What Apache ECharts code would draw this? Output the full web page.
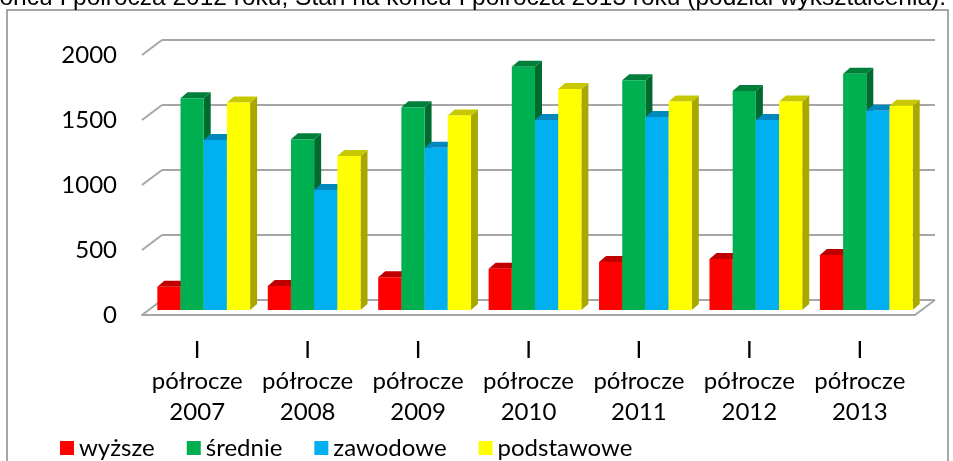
<!DOCTYPE html>
<html>
<head>
<meta charset="utf-8">
<script src="https://cdn.jsdelivr.net/npm/echarts@6/dist/echarts.min.js"></script>
<style>
  html, body { margin: 0; padding: 0; background: #fff; }
  #chart { width: 953px; height: 461px; }
</style>
</head>
<body>
<div id="chart"></div>
<script>
// dane
const categories = ['I\npółrocze\n2007', 'I\npółrocze\n2008', 'I\npółrocze\n2009', 'I\npółrocze\n2010',
  'I\npółrocze\n2011', 'I\npółrocze\n2012', 'I\npółrocze\n2013']
const wyzsze = [179, 185, 252, 318, 369, 392, 423]
const srednie = [1628, 1313, 1559, 1872, 1767, 1685, 1818]
const zawodowe = [1308, 923, 1249, 1462, 1485, 1462, 1533]
const podstawowe = [1597, 1185, 1497, 1700, 1603, 1603, 1572]
const yTicks = [0, 500, 1000, 1500, 2000]

const titleText = 'końcu I półrocza 2012 roku, Stan na końcu I półrocza 2013 roku (podział wykształcenia).'

const FONT = 'Lato'
const gridColor = '#a6a6a6'

// kolory: przód, góra, bok
const seriesDefs = [
  { name: 'wyższe', data: wyzsze, colors: ['#ff0000', '#c00000', '#a00000'] },
  { name: 'średnie', data: srednie, colors: ['#00b050', '#007f3a', '#006b2f'] },
  { name: 'zawodowe', data: zawodowe, colors: ['#00b0f0', '#0088bf', '#0078a8'] },
  { name: 'podstawowe', data: podstawowe, colors: ['#ffff00', '#c8c800', '#a8a800'] }
]

const DX = 7
const DY = -6

const chart = echarts.init(document.getElementById('chart'))

const barSeries = seriesDefs.map((s, k) => ({
  name: s.name,
  type: 'custom',
  xAxisIndex: 2,
  yAxisIndex: 2,
  itemStyle: { color: s.colors[0] },
  encode: { x: 0, y: 1 },
  data: s.data.map((v, i) => [i, v]),
  renderItem: (params, api) => {
    const cat = api.value(0)
    const val = api.value(1)
    const top = api.coord([cat, val])
    const base = api.coord([cat, 0])
    const bw = api.size([1, 0])[0]
    const w = bw * 0.21
    const x0 = top[0] + (k - 2) * w
    const x1 = x0 + w
    const yT = top[1]
    const yB = base[1]
    return {
      type: 'group',
      children: [
        {
          type: 'polygon',
          shape: { points: [[x1, yT], [x1 + DX, yT + DY], [x1 + DX, yB + DY], [x1, yB]] },
          style: { fill: s.colors[2] }
        },
        {
          type: 'polygon',
          shape: { points: [[x0, yT], [x0 + DX, yT + DY], [x1 + DX, yT + DY], [x1, yT]] },
          style: { fill: s.colors[1] }
        },
        {
          type: 'rect',
          shape: { x: x0, y: yT, width: w, height: yB - yT },
          style: { fill: s.colors[0] }
        }
      ]
    }
  }
}))

// skośne linie ścian (perspektywa)
const wallSeries = {
  type: 'custom',
  xAxisIndex: 1,
  yAxisIndex: 1,
  silent: true,
  encode: { x: 0, y: 1 },
  data: yTicks.map(v => [0, v]),
  renderItem: (params, api) => {
    const v = api.value(1)
    const p = api.coord([0, v])
    const bw = api.size([1, 0])[0]
    const left = p[0] - bw / 2
    const children = [{
      type: 'line',
      shape: { x1: left, y1: p[1], x2: left + 20, y2: p[1] - 15 },
      style: { stroke: gridColor, lineWidth: 2 }
    }]
    if (v === 0) {
      const right = api.coord([categories.length - 1, 0])[0] + bw / 2
      children.push({
        type: 'line',
        shape: { x1: right, y1: p[1], x2: right + 20, y2: p[1] - 15 },
        style: { stroke: gridColor, lineWidth: 2 }
      })
    }
    return { type: 'group', children: children }
  }
}

const option = {
  backgroundColor: '#fff',
  animation: false,
  textStyle: { fontFamily: FONT },
  graphic: [
    {
      type: 'rect',
      shape: { x: 7, y: 10, width: 941, height: 470 },
      style: { fill: 'none', stroke: '#8a8a8a', lineWidth: 1.5 },
      z: -1
    },
    {
      type: 'text',
      style: {
        text: titleText,
        x: 946,
        y: 11,
        align: 'right',
        verticalAlign: 'bottom',
        font: '24.5px "Liberation Sans", Arial, sans-serif',
        fill: '#000'
      }
    }
  ],
  legend: {
    left: 55,
    top: 431,
    icon: 'rect',
    itemWidth: 14,
    itemHeight: 14,
    itemGap: 32,
    textStyle: { fontFamily: FONT, fontSize: 24, color: '#000' },
    data: seriesDefs.map(s => s.name)
  },
  grid: [
    { left: 162, right: 18, top: 40, bottom: 161 },
    { left: 142, right: 38, top: 55, bottom: 146 },
    { left: 148.5, right: 31.5, top: 50, bottom: 151 }
  ],
  xAxis: [
    { gridIndex: 0, type: 'category', data: categories, show: false },
    {
      gridIndex: 1,
      type: 'category',
      data: categories,
      axisLine: { lineStyle: { color: gridColor, width: 2 } },
      axisTick: { show: false },
      axisLabel: {
        margin: 20,
        fontFamily: FONT,
        fontSize: 24,
        lineHeight: 31,
        color: '#000',
        interval: 0
      }
    },
    { gridIndex: 2, type: 'category', data: categories, show: false }
  ],
  yAxis: [
    {
      gridIndex: 0,
      type: 'value',
      min: 0,
      max: 2000,
      interval: 500,
      axisLabel: { show: false },
      axisLine: { show: false },
      axisTick: { show: false },
      splitLine: { lineStyle: { color: gridColor, width: 2 } }
    },
    {
      gridIndex: 1,
      type: 'value',
      min: 0,
      max: 2000,
      interval: 500,
      axisLine: { show: false },
      axisTick: { show: false },
      splitLine: { show: false },
      axisLabel: {
        margin: 25,
        fontFamily: FONT,
        fontSize: 24,
        color: '#000',
        formatter: v => String(v)
      }
    },
    { gridIndex: 2, type: 'value', min: 0, max: 2000, show: false, splitLine: { show: false } }
  ],
  series: [wallSeries].concat(barSeries)
}

chart.setOption(option)
</script>
</body>
</html>
